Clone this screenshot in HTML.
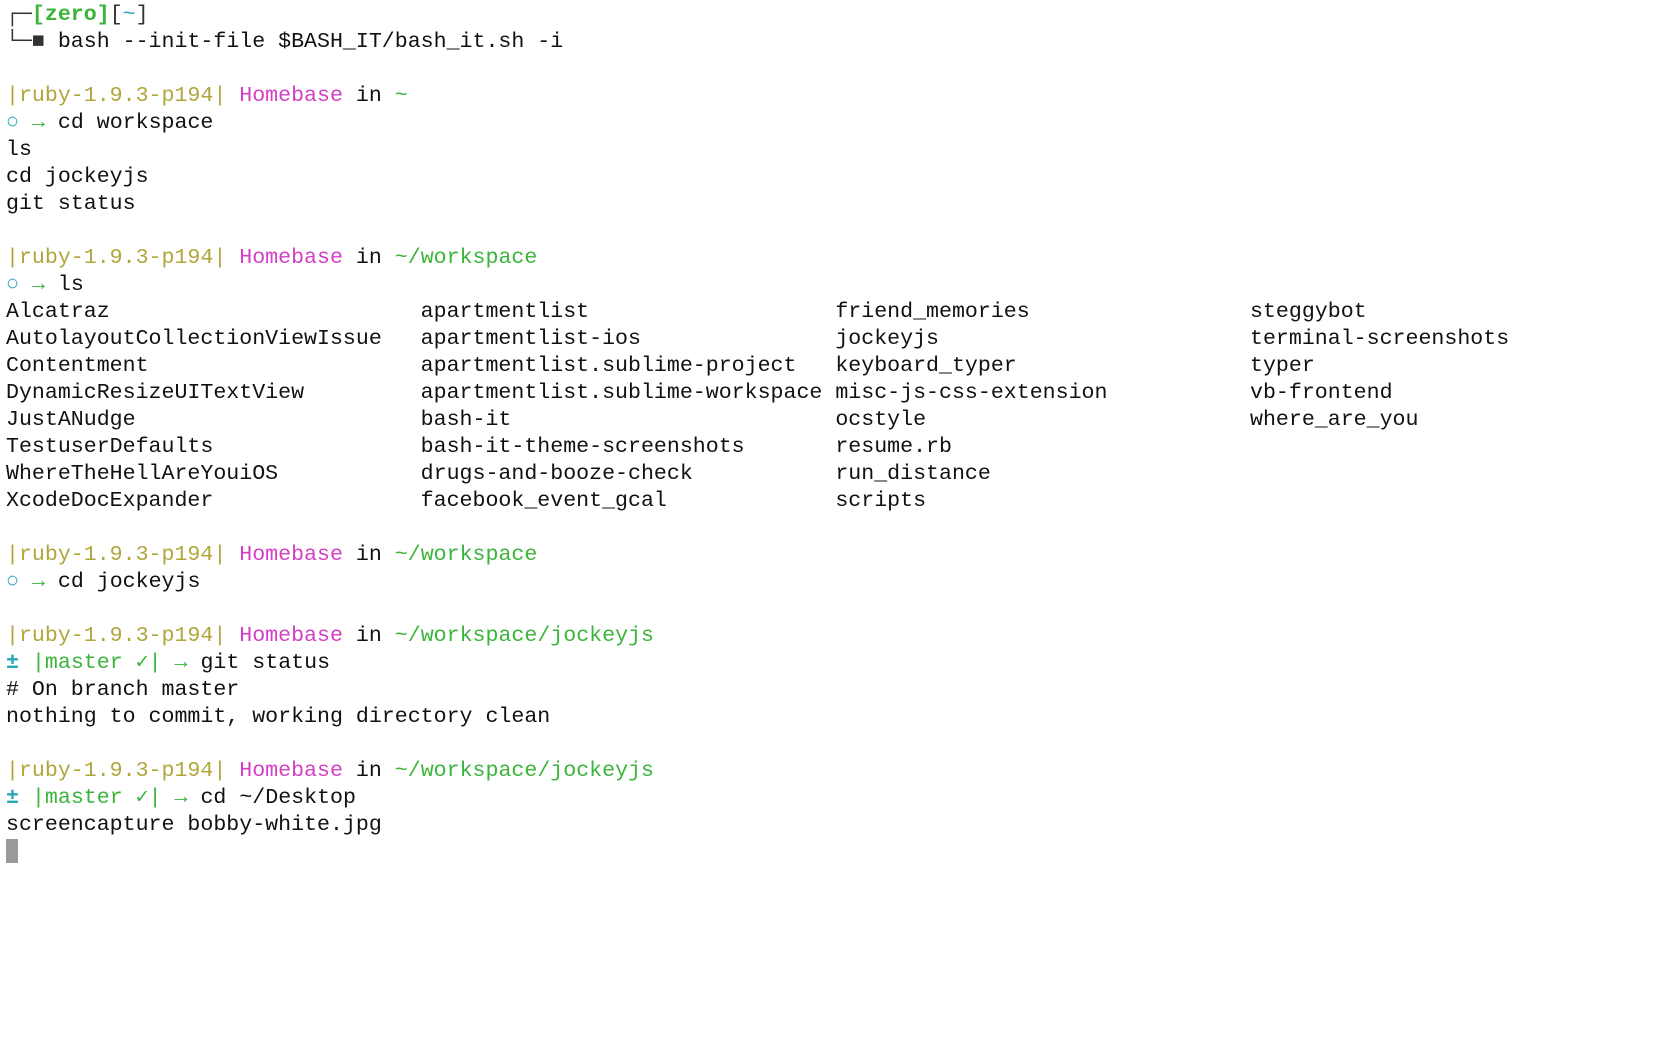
<!DOCTYPE html>
<html><head><meta charset="utf-8"><style>
html,body{margin:0;padding:0;background:#fff;width:1680px;height:1050px;overflow:hidden}
pre{margin:0;position:absolute;left:6px;top:2px;font-family:"Liberation Mono","DejaVu Sans Mono",monospace;font-size:21.6px;line-height:27px;color:#111}
.o{color:#b0a63a}.m{color:#d43ec4}.g{color:#3bb43a}.c{color:#2aa7b8}.gr{color:#333}
.b{font-weight:bold}
.cur{display:inline-block;width:12px;height:24px;background:#999;vertical-align:-5px}
</style></head><body>
<pre><span class="gr">┌─</span><span class="g b">[zero]</span><span class="gr">[</span><span class="c">~</span><span class="gr">]</span>
<span class="gr">└─■</span> bash --init-file $BASH_IT/bash_it.sh -i

<span class="o">|ruby-1.9.3-p194|</span> <span class="m">Homebase</span> in <span class="g">~</span>
<span class="c b">○</span> <span class="g b">→</span> cd workspace
ls
cd jockeyjs
git status

<span class="o">|ruby-1.9.3-p194|</span> <span class="m">Homebase</span> in <span class="g">~/workspace</span>
<span class="c b">○</span> <span class="g b">→</span> ls
Alcatraz                        apartmentlist                   friend_memories                 steggybot
AutolayoutCollectionViewIssue   apartmentlist-ios               jockeyjs                        terminal-screenshots
Contentment                     apartmentlist.sublime-project   keyboard_typer                  typer
DynamicResizeUITextView         apartmentlist.sublime-workspace misc-js-css-extension           vb-frontend
JustANudge                      bash-it                         ocstyle                         where_are_you
TestuserDefaults                bash-it-theme-screenshots       resume.rb
WhereTheHellAreYouiOS           drugs-and-booze-check           run_distance
XcodeDocExpander                facebook_event_gcal             scripts

<span class="o">|ruby-1.9.3-p194|</span> <span class="m">Homebase</span> in <span class="g">~/workspace</span>
<span class="c b">○</span> <span class="g b">→</span> cd jockeyjs

<span class="o">|ruby-1.9.3-p194|</span> <span class="m">Homebase</span> in <span class="g">~/workspace/jockeyjs</span>
<span class="c b">±</span> <span class="g">|master ✓|</span> <span class="g b">→</span> git status
# On branch master
nothing to commit, working directory clean

<span class="o">|ruby-1.9.3-p194|</span> <span class="m">Homebase</span> in <span class="g">~/workspace/jockeyjs</span>
<span class="c b">±</span> <span class="g">|master ✓|</span> <span class="g b">→</span> cd ~/Desktop
screencapture bobby-white.jpg
<span class="cur"></span></pre>
</body></html>
